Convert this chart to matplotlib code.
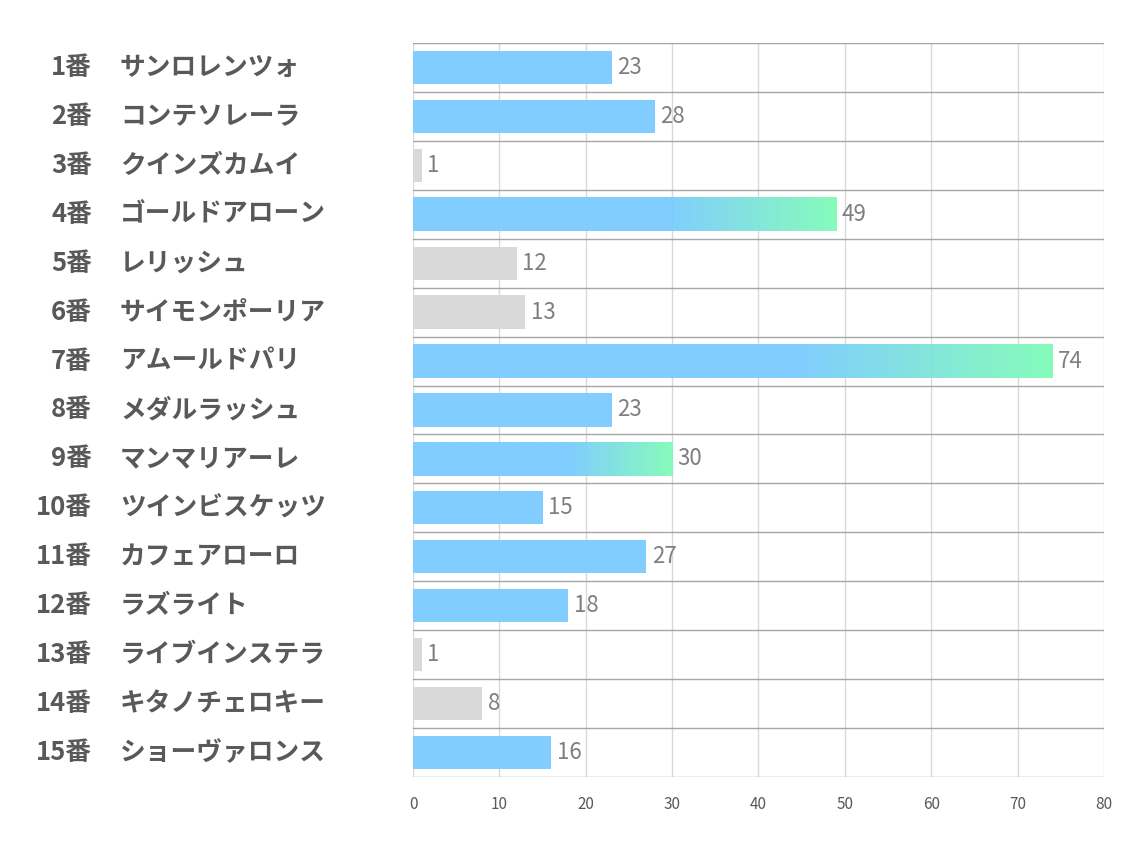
import numpy as np
import matplotlib
matplotlib.use('Agg')
import matplotlib.pyplot as plt
from matplotlib.transforms import blended_transform_factory

plt.rcParams['font.family'] = ['Noto Sans CJK JP', 'DejaVu Sans']

# data
numbers = ['1番', '2番', '3番', '4番', '5番', '6番', '7番', '8番', '9番', '10番',
           '11番', '12番', '13番', '14番', '15番']
names = ['サンロレンツォ', 'コンテソレーラ', 'クインズカムイ', 'ゴールドアローン', 'レリッシュ',
         'サイモンポーリア', 'アムールドパリ', 'メダルラッシュ', 'マンマリアーレ', 'ツインビスケッツ',
         'カフェアローロ', 'ラズライト', 'ライブインステラ', 'キタノチェロキー', 'ショーヴァロンス']
values = [23, 28, 1, 49, 12, 13, 74, 23, 30, 15, 27, 18, 1, 8, 16]
kinds = ['blue', 'blue', 'gray', 'grad', 'gray', 'gray', 'grad', 'blue', 'grad', 'blue',
         'blue', 'blue', 'gray', 'gray', 'blue']
x_ticks = [0, 10, 20, 30, 40, 50, 60, 70, 80]

BLUE = np.array([122, 203, 255]) / 255
GREEN = np.array([128, 252, 184]) / 255
GRAY = '#D9D9D9'
BAR_H = 0.68

fig = plt.figure(figsize=(11.34, 8.5), dpi=100)
ax = fig.add_axes([0.3642, 0.0859, 0.6093, 0.8635])

ypos = np.arange(len(values))
for y, v, k in zip(ypos, values, kinds):
    if k == 'gray':
        ax.barh(y, v, height=BAR_H, color=GRAY, zorder=2)
    elif k == 'blue':
        ax.barh(y, v, height=BAR_H, color=BLUE, alpha=0.95, zorder=2)
    else:
        # blue that fades into green over the last part of the bar
        n = 300
        t = np.linspace(0, 1, n)
        start = 0.6
        f = np.clip((t - start) / (1 - start), 0, 1)[:, None]
        rgb = BLUE * (1 - f) + GREEN * f
        img = np.concatenate([rgb, np.full((n, 1), 0.95)], axis=1)[None, :, :]
        ax.imshow(img, extent=(0, v, y + BAR_H / 2, y - BAR_H / 2),
                  aspect='auto', interpolation='bilinear', zorder=2)
    ax.annotate(str(v), (v, y), xytext=(4, 0), textcoords='offset points',
                va='center', ha='left', fontsize=16, color='#7F7F7F', zorder=3)

ax.set_xlim(0, 80)
ax.set_ylim(len(values) - 0.5, -0.5)
ax.set_xticks(x_ticks)
ax.set_yticks([])
ax.tick_params(axis='x', length=0, pad=14, labelsize=11, labelcolor='#595959')

# vertical grid and row separators
for xt in x_ticks:
    ax.axvline(xt, color='#D9D9D9', lw=1, zorder=1)
for yb in np.arange(-0.5, len(values), 1):
    ax.axhline(yb, color='#A6A6A6', lw=1, zorder=1)
for s in ax.spines.values():
    s.set_visible(False)

trans = blended_transform_factory(ax.transAxes, ax.transData)
for y, num, name in zip(ypos, numbers, names):
    ax.text(-0.4645, y, num, transform=trans, ha='right', va='center',
            fontsize=18.5, fontweight='bold', color='#595959')
    ax.text(-0.424, y, name, transform=trans, ha='left', va='center',
            fontsize=18.5, fontweight='bold', color='#595959')

fig.savefig('out.png', dpi=100)
